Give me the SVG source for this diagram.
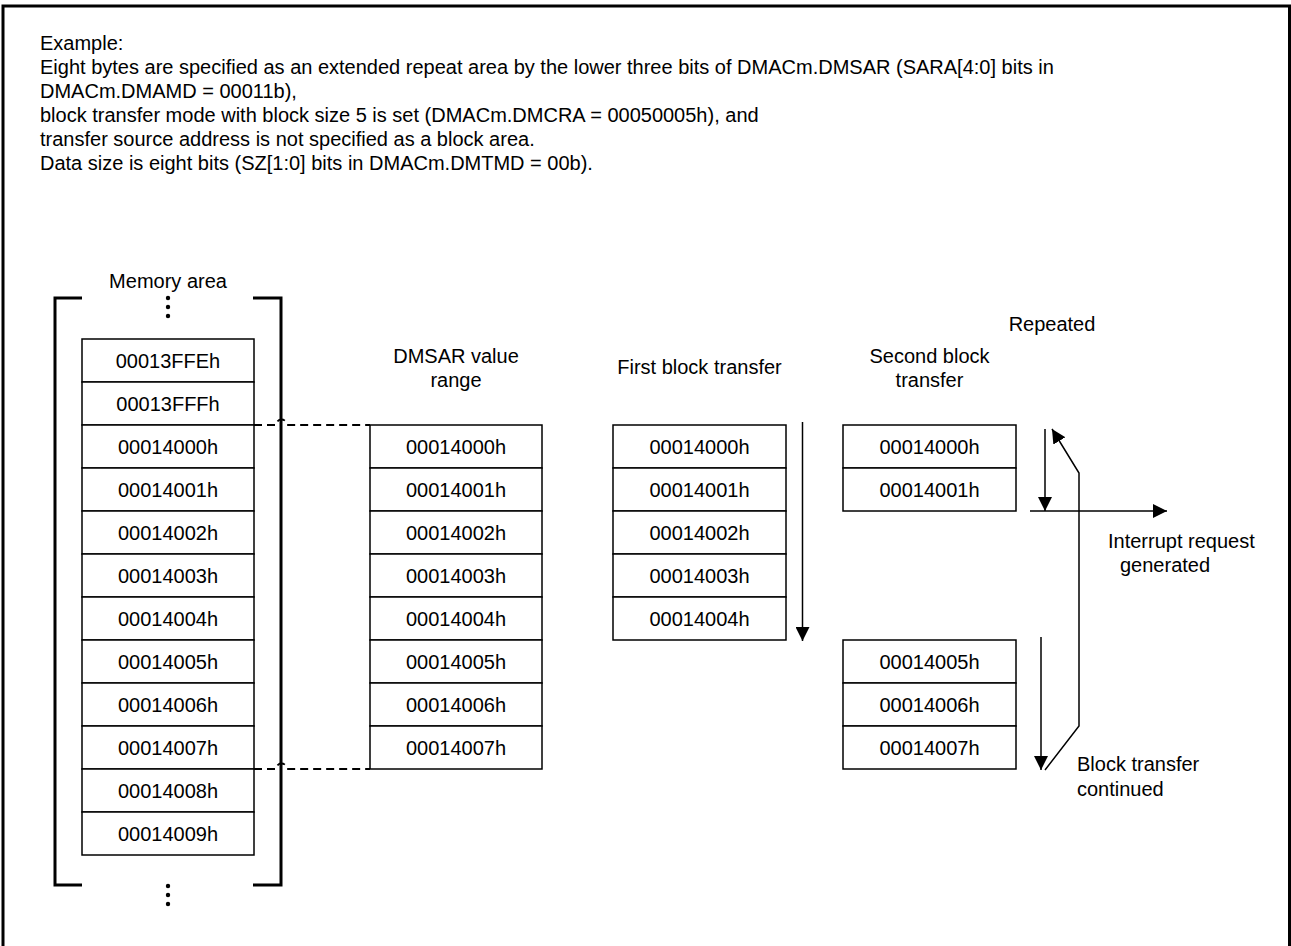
<svg xmlns="http://www.w3.org/2000/svg" width="1291" height="946" viewBox="0 0 1291 946">
<style>
text{font-family:"Liberation Sans",Arial,sans-serif;font-size:20px;fill:#000}
.c{text-anchor:middle}
.cell{fill:#fff;stroke:#000;stroke-width:1.5}
.br{fill:none;stroke:#000;stroke-width:3}
.ln{fill:none;stroke:#000;stroke-width:1.5}
.dash{fill:none;stroke:#000;stroke-width:1.8;stroke-dasharray:8 5}
</style>
<defs>
<marker id="ah" viewBox="0 0 14 14" refX="14" refY="7" markerWidth="14" markerHeight="14" markerUnits="userSpaceOnUse" orient="auto">
<path d="M0,0 L14,7 L0,14 z" fill="#000"/>
</marker>
</defs>
<rect width="1291" height="946" fill="#fff"/>
<path d="M3,946 V6 H1289.5 V946" fill="none" stroke="#000" stroke-width="3"/>
<g id="description">
<text x="40" y="50">Example:</text>
<text x="40" y="74">Eight bytes are specified as an extended repeat area by the lower three bits of DMACm.DMSAR (SARA[4:0] bits in</text>
<text x="40" y="98">DMACm.DMAMD = 00011b),</text>
<text x="40" y="122">block transfer mode with block size 5 is set (DMACm.DMCRA = 00050005h), and</text>
<text x="40" y="146">transfer source address is not specified as a block area.</text>
<text x="40" y="170">Data size is eight bits (SZ[1:0] bits in DMACm.DMTMD = 00b).</text>
</g>
<g id="memory-area">
<text class="c" x="168" y="288">Memory area</text>
<path class="br" d="M82,298 H55 V885 H82 M253,298 H281 V885 H253"/>
<circle cx="168" cy="298" r="2.2"/><circle cx="168" cy="307" r="2.2"/><circle cx="168" cy="316" r="2.2"/>
<circle cx="168" cy="886" r="2.2"/><circle cx="168" cy="895" r="2.2"/><circle cx="168" cy="904" r="2.2"/>
<rect class="cell" x="82" y="339" width="172" height="43"/><text class="c" x="168" y="368">00013FFEh</text>
<rect class="cell" x="82" y="382" width="172" height="43"/><text class="c" x="168" y="411">00013FFFh</text>
<rect class="cell" x="82" y="425" width="172" height="43"/><text class="c" x="168" y="454">00014000h</text>
<rect class="cell" x="82" y="468" width="172" height="43"/><text class="c" x="168" y="497">00014001h</text>
<rect class="cell" x="82" y="511" width="172" height="43"/><text class="c" x="168" y="540">00014002h</text>
<rect class="cell" x="82" y="554" width="172" height="43"/><text class="c" x="168" y="583">00014003h</text>
<rect class="cell" x="82" y="597" width="172" height="43"/><text class="c" x="168" y="626">00014004h</text>
<rect class="cell" x="82" y="640" width="172" height="43"/><text class="c" x="168" y="669">00014005h</text>
<rect class="cell" x="82" y="683" width="172" height="43"/><text class="c" x="168" y="712">00014006h</text>
<rect class="cell" x="82" y="726" width="172" height="43"/><text class="c" x="168" y="755">00014007h</text>
<rect class="cell" x="82" y="769" width="172" height="43"/><text class="c" x="168" y="798">00014008h</text>
<rect class="cell" x="82" y="812" width="172" height="43"/><text class="c" x="168" y="841">00014009h</text>
</g>
<g id="dmsar-range">
<text class="c" x="456" y="363">DMSAR value</text>
<text class="c" x="456" y="387">range</text>
<rect class="cell" x="370" y="425" width="172" height="43"/><text class="c" x="456" y="454">00014000h</text>
<rect class="cell" x="370" y="468" width="172" height="43"/><text class="c" x="456" y="497">00014001h</text>
<rect class="cell" x="370" y="511" width="172" height="43"/><text class="c" x="456" y="540">00014002h</text>
<rect class="cell" x="370" y="554" width="172" height="43"/><text class="c" x="456" y="583">00014003h</text>
<rect class="cell" x="370" y="597" width="172" height="43"/><text class="c" x="456" y="626">00014004h</text>
<rect class="cell" x="370" y="640" width="172" height="43"/><text class="c" x="456" y="669">00014005h</text>
<rect class="cell" x="370" y="683" width="172" height="43"/><text class="c" x="456" y="712">00014006h</text>
<rect class="cell" x="370" y="726" width="172" height="43"/><text class="c" x="456" y="755">00014007h</text>
</g>
<g id="first-block">
<text class="c" x="699.5" y="374">First block transfer</text>
<rect class="cell" x="613" y="425" width="173" height="43"/><text class="c" x="699.5" y="454">00014000h</text>
<rect class="cell" x="613" y="468" width="173" height="43"/><text class="c" x="699.5" y="497">00014001h</text>
<rect class="cell" x="613" y="511" width="173" height="43"/><text class="c" x="699.5" y="540">00014002h</text>
<rect class="cell" x="613" y="554" width="173" height="43"/><text class="c" x="699.5" y="583">00014003h</text>
<rect class="cell" x="613" y="597" width="173" height="43"/><text class="c" x="699.5" y="626">00014004h</text>
</g>
<g id="second-block">
<text class="c" x="929.5" y="363">Second block</text>
<text class="c" x="929.5" y="387">transfer</text>
<rect class="cell" x="843" y="425" width="173" height="43"/><text class="c" x="929.5" y="454">00014000h</text>
<rect class="cell" x="843" y="468" width="173" height="43"/><text class="c" x="929.5" y="497">00014001h</text>
<rect class="cell" x="843" y="640" width="173" height="43"/><text class="c" x="929.5" y="669">00014005h</text>
<rect class="cell" x="843" y="683" width="173" height="43"/><text class="c" x="929.5" y="712">00014006h</text>
<rect class="cell" x="843" y="726" width="173" height="43"/><text class="c" x="929.5" y="755">00014007h</text>
</g>
<g id="labels">
<text class="c" x="1052" y="331">Repeated</text>
<text x="1108" y="548">Interrupt request</text>
<text x="1120" y="572">generated</text>
<text x="1077" y="771">Block transfer</text>
<text x="1077" y="796">continued</text>
</g>
<g id="connectors">
<path class="dash" d="M254,425 H276 A5.5,5.5 0 0 1 287,425 H370"/>
<path class="dash" d="M254,769 H276 A5.5,5.5 0 0 1 287,769 H370"/>
<path class="ln" d="M802.5,422 V641" marker-end="url(#ah)"/>
<path class="ln" d="M1045,429 V511" marker-end="url(#ah)"/>
<path class="ln" d="M1030,511 H1167" marker-end="url(#ah)"/>
<path class="ln" d="M1041,637 V770" marker-end="url(#ah)"/>
<path class="ln" d="M1045,770 L1079,726 V473 L1052,429" marker-end="url(#ah)"/>
</g>
</svg>
